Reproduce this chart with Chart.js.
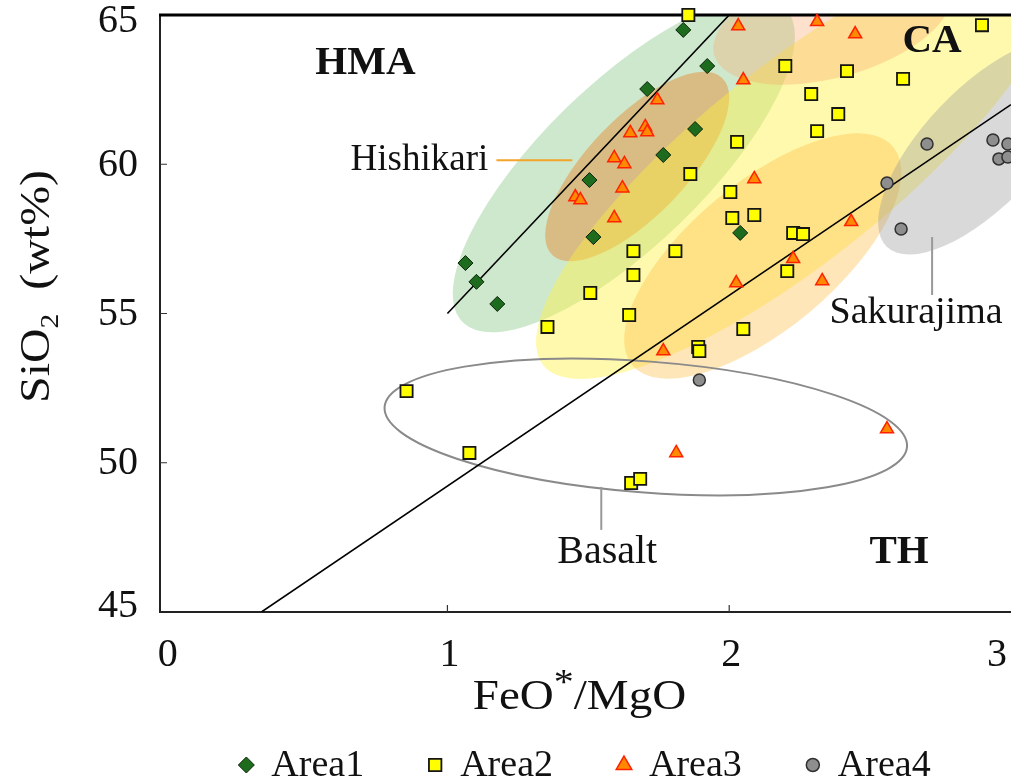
<!DOCTYPE html>
<html>
<head>
<meta charset="utf-8">
<script src="https://cdn.jsdelivr.net/npm/chart.js@4.4.0/dist/chart.umd.min.js"></script>
<style>
  html, body { margin: 0; padding: 0; background: #fff; overflow: hidden; }
  canvas { display: block; }
</style>
</head>
<body>
<canvas id="chart" width="1011" height="778"></canvas>
<script>
// ---- Sample data: FeO*/MgO (x) vs SiO2 wt% (y) ----
const area1 = [
  {x: 1.837, y: 64.50}, {x: 1.922, y: 63.29}, {x: 1.709, y: 62.52}, {x: 1.879, y: 61.18},
  {x: 1.766, y: 60.31}, {x: 1.504, y: 59.47}, {x: 1.518, y: 57.56}, {x: 1.064, y: 56.69},
  {x: 1.103, y: 56.06}, {x: 1.177, y: 55.32}, {x: 2.039, y: 57.70}
];
const area2 = [
  {x: 1.855, y: 65.00}, {x: 1.862, y: 59.67}, {x: 2.004, y: 59.07}, {x: 2.011, y: 58.20},
  {x: 2.089, y: 58.30}, {x: 1.660, y: 57.09}, {x: 1.809, y: 57.09}, {x: 1.660, y: 56.29},
  {x: 1.507, y: 55.69}, {x: 1.645, y: 54.95}, {x: 1.355, y: 54.55}, {x: 2.897, y: 64.66},
  {x: 2.199, y: 63.29}, {x: 2.418, y: 63.12}, {x: 2.617, y: 62.86}, {x: 2.291, y: 62.35},
  {x: 2.387, y: 61.68}, {x: 2.312, y: 61.11}, {x: 2.028, y: 60.75}, {x: 2.227, y: 57.70},
  {x: 2.262, y: 57.66}, {x: 2.206, y: 56.42}, {x: 2.050, y: 54.48}, {x: 1.890, y: 53.88},
  {x: 1.894, y: 53.74}, {x: 0.855, y: 52.40}, {x: 1.078, y: 50.33}, {x: 1.652, y: 49.32},
  {x: 1.684, y: 49.46}
];
const area3 = [
  {x: 1.745, y: 62.15}, {x: 1.702, y: 61.25}, {x: 1.709, y: 61.08}, {x: 1.649, y: 61.05},
  {x: 1.592, y: 60.21}, {x: 1.628, y: 60.01}, {x: 1.621, y: 59.20}, {x: 1.454, y: 58.90},
  {x: 1.472, y: 58.80}, {x: 1.592, y: 58.20}, {x: 2.032, y: 64.63}, {x: 2.312, y: 64.77},
  {x: 2.447, y: 64.36}, {x: 2.050, y: 62.82}, {x: 2.089, y: 59.51}, {x: 2.433, y: 58.07},
  {x: 2.227, y: 56.83}, {x: 2.025, y: 56.02}, {x: 2.330, y: 56.09}, {x: 1.766, y: 53.74},
  {x: 1.812, y: 50.33}, {x: 2.560, y: 51.13}
];
const area4 = [
  {x: 1.894, y: 52.77}, {x: 2.702, y: 60.68}, {x: 2.560, y: 59.37}, {x: 2.610, y: 57.83},
  {x: 2.936, y: 60.81}, {x: 2.989, y: 60.68}, {x: 2.957, y: 60.18}, {x: 2.989, y: 60.24}
];
const seriesNames = ['Area1', 'Area2', 'Area3', 'Area4'];

// Discrimination lines (HMA / CA and CA / TH)
const hmaBoundary = [{x: 1.0, y: 55}, {x: 2.0, y: 65}];
const thBoundary  = [{x: 0.34, y: 45}, {x: 3.0, y: 62.0}];

// Axis ticks
const xTicks = [0, 1, 2, 3];
const yTicks = [45, 50, 55, 60, 65];
const xRange = [-0.02, 3.0];
const yRange = [45, 65];

// Compositional fields: major-axis end points (data units) and minor/major ratio
const greenField  = {from: [1.053, 54.72], to: [2.199, 65.23], ratio: 0.36};
const hishikariField = {from: [1.372, 56.96], to: [1.975, 62.89], ratio: 0.40};
const yellowField = {from: [1.340, 53.27], to: [3.138, 66.84], ratio: 0.30};
const orangeField = {from: [1.656, 53.27], to: [2.582, 60.58], ratio: 0.43};
const peachField  = {from: [1.947, 63.66], to: [2.784, 65.84], ratio: 0.45};
const sakurajimaField = {from: [2.560, 57.23], to: [3.234, 63.93], ratio: 0.42};
const basaltField = {from: [0.777, 51.87], to: [2.631, 50.53], ratio: 0.25};

// ---- Drawing styles ----
const FONT = '"Liberation Serif", "Times New Roman", serif';
const INK = '#111';

const fieldStyles = [
  {field: greenField,      fill: 'rgba(120,192,120,0.36)'},
  {field: hishikariField,  fill: 'rgba(230,140,50,0.48)'},
  {field: yellowField,     fill: 'rgba(255,240,60,0.42)'},
  {field: orangeField,     fill: 'rgba(252,185,60,0.36)'},
  {field: peachField,      fill: 'rgba(248,165,100,0.33)'},
  {field: sakurajimaField, fill: 'rgba(150,150,150,0.36)'},
  {field: basaltField,     stroke: '#8a8a8a', width: 2}
];

// Text annotations (data coordinates)
const annotations = [
  {text: 'HMA', x: 0.709, y: 63.39, size: 41, bold: true},
  {text: 'CA', x: 2.72, y: 64.10, size: 41, bold: true},
  {text: 'TH', x: 2.603, y: 46.98, size: 41, bold: true},
  {text: 'Hishikari', x: 1.145, y: 60.14, size: 37, align: 'right'},
  {text: 'Sakurajima', x: 2.663, y: 55.02, size: 38},
  {text: 'Basalt', x: 1.567, y: 47.01, size: 40}
];
const leaders = [
  {from: [1.174, 60.13], to: [1.443, 60.13], color: '#f2a52a', width: 2},
  {from: [2.72, 57.56], to: [2.72, 55.62], color: '#999', width: 2},
  {from: [1.546, 49.19], to: [1.546, 47.75], color: '#999', width: 2}
];

function toPx(chart, p) {
  return [chart.scales.x.getPixelForValue(p[0]), chart.scales.y.getPixelForValue(p[1])];
}

function drawText(ctx, s, x, y, o) {
  o = o || {};
  ctx.save();
  ctx.translate(x, y);
  if (o.rotate) ctx.rotate(o.rotate);
  ctx.scale(o.sx || 1, 1);
  ctx.font = (o.bold ? 'bold ' : '') + (o.size || 38) + 'px ' + FONT;
  ctx.textAlign = o.align || 'center';
  ctx.textBaseline = o.baseline || 'middle';
  ctx.fillStyle = INK;
  ctx.fillText(s, 0, 0);
  ctx.restore();
}

// Draws a run of text pieces with sub/superscripts, centred on (0,0) in the current frame
function drawRich(ctx, pieces, size) {
  let total = 0;
  const measured = pieces.map(p => {
    const fs = p.script ? size * (p.scale || 0.62) : size;
    ctx.font = fs + 'px ' + FONT;
    const w = ctx.measureText(p.t).width;
    total += w;
    return {p, fs, w};
  });
  let x = -total / 2;
  ctx.textAlign = 'left';
  ctx.textBaseline = 'alphabetic';
  ctx.fillStyle = INK;
  for (const m of measured) {
    ctx.font = m.fs + 'px ' + FONT;
    let dy = size * 0.34;
    if (m.p.script === 'sub') dy += size * 0.2;
    if (m.p.script === 'sup') dy -= size * 0.36;
    ctx.fillText(m.p.t, x, dy);
    x += m.w;
  }
}

const backdrop = {
  id: 'backdrop',
  beforeDatasetsDraw(chart) {
    const ctx = chart.ctx, a = chart.chartArea;
    ctx.save();
    ctx.beginPath();
    ctx.rect(a.left, a.top, a.right - a.left, a.bottom - a.top);
    ctx.clip();
    for (const fs of fieldStyles) {
      const f = fs.field;
      const [x1, y1] = toPx(chart, f.from);
      const [x2, y2] = toPx(chart, f.to);
      const half = Math.hypot(x2 - x1, y2 - y1) / 2;
      ctx.beginPath();
      ctx.ellipse((x1 + x2) / 2, (y1 + y2) / 2, half, half * f.ratio,
                  Math.atan2(y2 - y1, x2 - x1), 0, Math.PI * 2);
      if (fs.fill) { ctx.fillStyle = fs.fill; ctx.fill(); }
      if (fs.stroke) { ctx.strokeStyle = fs.stroke; ctx.lineWidth = fs.width; ctx.stroke(); }
    }
    for (const l of leaders) {
      const [x1, y1] = toPx(chart, l.from);
      const [x2, y2] = toPx(chart, l.to);
      ctx.beginPath();
      ctx.moveTo(x1, y1); ctx.lineTo(x2, y2);
      ctx.strokeStyle = l.color; ctx.lineWidth = l.width; ctx.stroke();
    }
    ctx.restore();

    // frame: left and bottom axes, heavy top rule
    ctx.save();
    ctx.strokeStyle = '#222';
    ctx.lineWidth = 2;
    ctx.beginPath();
    ctx.moveTo(a.left, a.top); ctx.lineTo(a.left, a.bottom); ctx.lineTo(a.right, a.bottom);
    ctx.stroke();
    ctx.lineWidth = 3;
    ctx.strokeStyle = '#000';
    ctx.beginPath();
    ctx.moveTo(a.left - 1, a.top); ctx.lineTo(a.right, a.top);
    ctx.stroke();
    // inward tick marks
    ctx.lineWidth = 1.2;
    ctx.strokeStyle = '#333';
    ctx.beginPath();
    for (const v of yTicks) {
      const y = chart.scales.y.getPixelForValue(v);
      if (y > a.top + 2 && y < a.bottom - 2) { ctx.moveTo(a.left, y); ctx.lineTo(a.left + 7, y); }
    }
    for (const v of xTicks) {
      const x = chart.scales.x.getPixelForValue(v);
      if (x > a.left + 8 && x < a.right - 2) { ctx.moveTo(x, a.bottom); ctx.lineTo(x, a.bottom - 7); }
    }
    ctx.stroke();
    ctx.restore();
  },
  afterDatasetsDraw(chart) {
    const ctx = chart.ctx, a = chart.chartArea;
    const W = chart.width;
    for (const t of annotations) {
      const [x, y] = toPx(chart, [t.x, t.y]);
      drawText(ctx, t.text, x, y, {size: t.size, bold: t.bold, align: t.align});
    }
    // tick labels
    for (const v of yTicks) {
      let y = chart.scales.y.getPixelForValue(v);
      y = Math.min(Math.max(y, a.top + 5), a.bottom - 7);
      drawText(ctx, String(v), a.left - 22, y + 1, {size: 40, align: 'right'});
    }
    for (const v of xTicks) {
      let x = chart.scales.x.getPixelForValue(v);
      ctx.font = '40px ' + FONT;
      const w = ctx.measureText(String(v)).width;
      x = Math.min(x + 2, W - w / 2 - 4);
      drawText(ctx, String(v), x, a.bottom + 43, {size: 40});
    }
    // axis titles
    ctx.save();
    ctx.translate((a.left + a.right) / 2 - 6, a.bottom + 83);
    ctx.scale(1.12, 1);
    drawRich(ctx, [{t: 'FeO'}, {t: '*', script: 'sup', scale: 0.85}, {t: '/MgO'}], 42);
    ctx.restore();

    ctx.save();
    ctx.translate(a.left - 125, (a.top + a.bottom) / 2 - 27);
    ctx.rotate(-Math.PI / 2);
    ctx.scale(1.14, 1);
    drawRich(ctx, [{t: 'SiO'}, {t: '2', script: 'sub'}, {t: '\u00a0\u00a0(wt%)'}], 42);
    ctx.restore();

    // legend
    const items = chart.data.datasets.filter(d => d.inLegend);
    const textSize = 38;
    ctx.font = textSize + 'px ' + FONT;
    const widths = items.map(d => ctx.measureText(d.label).width);
    const markGap = 25, itemGap = 71;
    let total = 6;
    widths.forEach((w, i) => { total += markGap + w + (i < widths.length - 1 ? itemGap : 0); });
    let x = (a.left + a.right) / 2 - total / 2 + 6;
    const ly = 765;
    items.forEach((d, i) => {
      ctx.save();
      ctx.fillStyle = d.backgroundColor;
      ctx.strokeStyle = d.borderColor;
      ctx.lineWidth = d.borderWidth;
      Chart.helpers.drawPoint(ctx, {pointStyle: d.pointStyle, rotation: 0,
        radius: d.legendRadius, borderWidth: d.borderWidth}, x, ly);
      ctx.restore();
      drawText(ctx, d.label, x + markGap, ly + 1, {size: textSize, align: 'left'});
      x += markGap + widths[i] + itemGap;
    });
  }
};

const pointSets = [
  {label: seriesNames[0], data: area1, pointStyle: 'rectRot', pointRadius: 7.5, legendRadius: 8,
   backgroundColor: '#1d6b1d', borderColor: '#0b220b', borderWidth: 1},
  {label: seriesNames[1], data: area2, pointStyle: 'rect', pointRadius: 8.6, legendRadius: 8.8,
   backgroundColor: '#ffff00', borderColor: '#151515', borderWidth: 1.8},
  {label: seriesNames[2], data: area3, pointStyle: 'triangle', pointRadius: 7.5, legendRadius: 9,
   backgroundColor: '#ff8a00', borderColor: '#ff2200', borderWidth: 1.5},
  {label: seriesNames[3], data: area4, pointStyle: 'circle', pointRadius: 6, legendRadius: 6.5,
   backgroundColor: '#8e8e8e', borderColor: '#303030', borderWidth: 1.5}
].map(d => Object.assign(d, {type: 'scatter', inLegend: true, order: 0, clip: false,
                             pointHoverRadius: d.pointRadius}));

const lineSets = [hmaBoundary, thBoundary].map(data => ({
  type: 'scatter', data, showLine: true, pointRadius: 0, borderColor: '#000',
  borderWidth: 1.6, order: 5, inLegend: false
}));

new Chart(document.getElementById('chart'), {
  type: 'scatter',
  data: {datasets: [...pointSets, ...lineSets]},
  options: {
    responsive: false,
    animation: false,
    events: [],
    layout: {autoPadding: false, padding: {left: 160, top: 15, right: 0, bottom: 166}},
    plugins: {legend: {display: false}, tooltip: {enabled: false}},
    scales: {
      x: {type: 'linear', min: xRange[0], max: xRange[1], display: false},
      y: {type: 'linear', min: yRange[0], max: yRange[1], display: false}
    }
  },
  plugins: [backdrop]
});
</script>
</body>
</html>
